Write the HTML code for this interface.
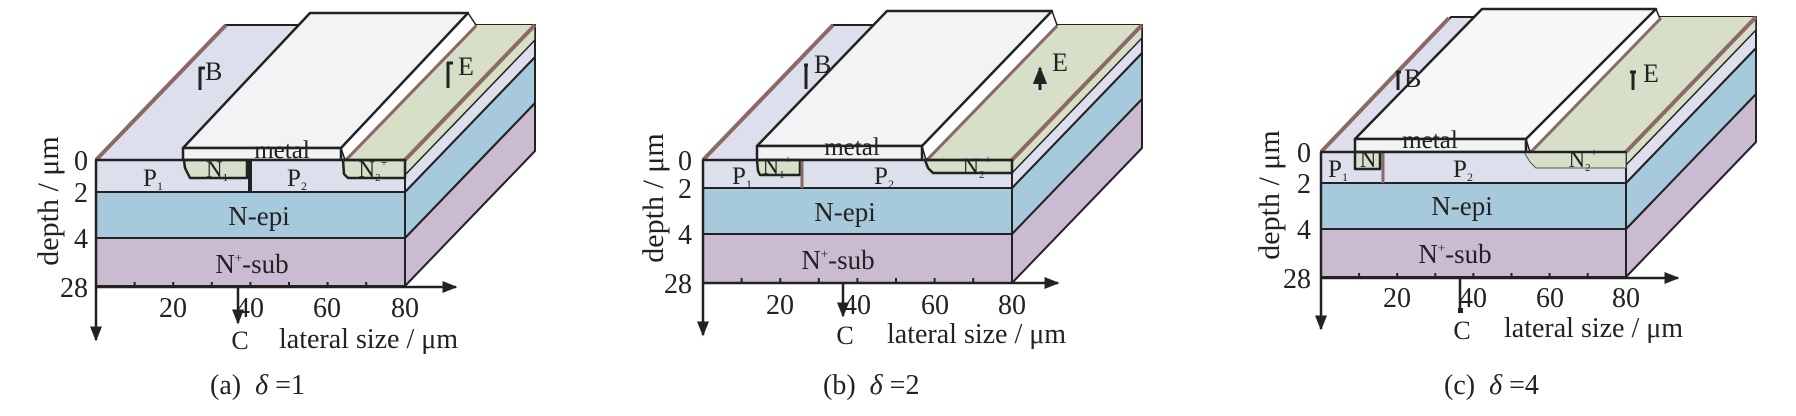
<!DOCTYPE html>
<html><head><meta charset="utf-8"><style>
html,body{margin:0;padding:0;background:#fff;}
svg{display:block;}
text{font-family:"Liberation Serif",serif;fill:#222;}
</style></head><body>
<svg width="1796" height="416" viewBox="0 0 1796 416" xmlns="http://www.w3.org/2000/svg">
<defs>
<marker id="ar" viewBox="0 0 10 10" refX="9" refY="5" markerWidth="6" markerHeight="6" orient="auto"><path d="M0,1 L10,5 L0,9 z" fill="#222"/></marker>
</defs>
<g stroke-linejoin="round">

<!-- ================= PANEL A ================= -->
<polygon points="405,238 535,103 535,151 405,286" fill="#cbbbd0" stroke="#222" stroke-width="2"/>
<polygon points="405,192 535,57 535,103 405,238" fill="#a7c9dc" stroke="#222" stroke-width="2"/>
<polygon points="405,160 535,25 535,57 405,192" fill="#dde0ec" stroke="#222" stroke-width="2"/>
<polygon points="405,160 535,25 535,40 405,175" fill="#d8dfc8" stroke="#222" stroke-width="1.5"/>
<polygon points="96,160 226,25 535,25 405,160" fill="#dde0ec" stroke="#222" stroke-width="2"/>
<polygon points="345,160 475,25 535,25 405,160" fill="#d8dfc8"/>
<polygon points="341,148 468,13 476,25 345,160" fill="#fff" stroke="#222" stroke-width="1.5"/>
<polygon points="183,148 310,13 468,13 341,148" fill="#f2f3f5" stroke="#222" stroke-width="2.5"/>
<rect x="183" y="148" width="158" height="12" fill="#f2f3f5" stroke="#222" stroke-width="2.5"/>
<line x1="96" y1="160" x2="226" y2="25" stroke="#8b6a66" stroke-width="4"/>
<line x1="347" y1="159" x2="476" y2="26" stroke="#8b6a66" stroke-width="3"/>
<line x1="405" y1="160" x2="535" y2="25" stroke="#8b6a66" stroke-width="4"/>
<rect x="96" y="160" width="309" height="32" fill="#dde0ec" stroke="#222" stroke-width="2"/>
<rect x="96" y="192" width="309" height="46" fill="#a7c9dc" stroke="#222" stroke-width="2"/>
<rect x="96" y="238" width="309" height="48" fill="#cbbbd0" stroke="#222" stroke-width="2"/>
<path d="M184,160 L185,168 L190,178 L247,178 L247,160 Z" fill="#d8dfc8" stroke="#222" stroke-width="2.5"/>
<line x1="250" y1="160" x2="250" y2="192" stroke="#222" stroke-width="4"/>
<path d="M343,160 L344,174 L348,178 L405,178 L405,160 Z" fill="#d8dfc8" stroke="#222" stroke-width="2.5"/>
<line x1="96" y1="160" x2="405" y2="160" stroke="#222" stroke-width="2.5"/>
<text x="153" y="186" font-size="25" text-anchor="middle">P<tspan font-size="12" dy="4">1</tspan></text>
<text x="297" y="186" font-size="25" text-anchor="middle">P<tspan font-size="12" dy="4">2</tspan></text>
<text x="217" y="177" font-size="23" text-anchor="middle" fill="#555">N<tspan font-size="11" dy="4">1</tspan></text>
<text x="373" y="177" font-size="23" text-anchor="middle" fill="#555">N<tspan font-size="11" dy="4">2</tspan><tspan font-size="12" dy="-15">+</tspan></text>
<text x="282" y="158" font-size="25" text-anchor="middle">metal</text>
<text x="259" y="225" font-size="27" text-anchor="middle">N-epi</text>
<text x="252" y="273" font-size="27" text-anchor="middle">N<tspan font-size="13" dy="-11">+</tspan><tspan dy="11">-sub</tspan></text>
<line x1="200" y1="67" x2="200" y2="90" stroke="#222" stroke-width="3"/><line x1="199" y1="68" x2="205" y2="68" stroke="#222" stroke-width="3"/>
<text x="205" y="80" font-size="26">B</text>
<line x1="448" y1="62" x2="448" y2="88" stroke="#222" stroke-width="3"/><line x1="447" y1="63" x2="453" y2="63" stroke="#222" stroke-width="3"/>
<text x="458" y="75" font-size="26">E</text>
<line x1="96" y1="287" x2="456" y2="287" stroke="#222" stroke-width="2.5" marker-end="url(#ar)"/>
<line x1="96" y1="160" x2="96" y2="340" stroke="#222" stroke-width="2.5" marker-end="url(#ar)"/>
<g stroke="#222" stroke-width="2"><line x1="134.6" y1="287" x2="134.6" y2="282"/><line x1="173.2" y1="287" x2="173.2" y2="282"/><line x1="211.8" y1="287" x2="211.8" y2="282"/><line x1="250.4" y1="287" x2="250.4" y2="282"/><line x1="289" y1="287" x2="289" y2="282"/><line x1="327.6" y1="287" x2="327.6" y2="282"/><line x1="366.2" y1="287" x2="366.2" y2="282"/></g>
<line x1="238" y1="287" x2="238" y2="323" stroke="#222" stroke-width="2.5" marker-end="url(#ar)"/>
<g font-size="28" text-anchor="middle"><text x="173" y="317">20</text><text x="250" y="317">40</text><text x="327" y="317">60</text><text x="405" y="317">80</text></g>
<g font-size="28" text-anchor="end"><text x="88" y="170">0</text><text x="88" y="202">2</text><text x="88" y="248">4</text><text x="88" y="297">28</text></g>
<text transform="translate(58,201) rotate(-90)" font-size="30" text-anchor="middle">depth / μm</text>
<text x="240" y="349" font-size="26" text-anchor="middle">C</text>
<text x="279" y="348" font-size="28">lateral size / μm</text>
<text x="210" y="394" font-size="28" xml:space="preserve">(a)  <tspan font-style="italic">δ</tspan> =1</text>

<!-- ================= PANEL B ================= -->
<polygon points="1012,234 1142,99 1142,148 1012,283" fill="#cbbbd0" stroke="#222" stroke-width="2"/>
<polygon points="1012,188 1142,53 1142,99 1012,234" fill="#a7c9dc" stroke="#222" stroke-width="2"/>
<polygon points="1012,160 1142,25 1142,53 1012,188" fill="#dde0ec" stroke="#222" stroke-width="2"/>
<polygon points="1012,160 1142,25 1142,38 1012,173" fill="#d8dfc8" stroke="#222" stroke-width="1.5"/>
<polygon points="703,160 833,25 1142,25 1012,160" fill="#dde0ec" stroke="#222" stroke-width="2"/>
<polygon points="926,160 1056,25 1142,25 1012,160" fill="#d8dfc8"/>
<polygon points="922,146 1052,11 1057,25 926,160" fill="#fff" stroke="#222" stroke-width="1.5"/>
<polygon points="757,146 887,11 1052,11 922,146" fill="#f2f3f5" stroke="#222" stroke-width="2.5"/>
<rect x="757" y="146" width="165" height="14" fill="#f2f3f5" stroke="#222" stroke-width="2.5"/>
<line x1="703" y1="160" x2="833" y2="25" stroke="#8b6a66" stroke-width="4"/>
<line x1="928" y1="159" x2="1057" y2="26" stroke="#8b6a66" stroke-width="3"/>
<line x1="1012" y1="160" x2="1142" y2="25" stroke="#8b6a66" stroke-width="4"/>
<rect x="703" y="160" width="309" height="28" fill="#dde0ec" stroke="#222" stroke-width="2"/>
<rect x="703" y="188" width="309" height="46" fill="#a7c9dc" stroke="#222" stroke-width="2"/>
<rect x="703" y="234" width="309" height="49" fill="#cbbbd0" stroke="#222" stroke-width="2"/>
<path d="M757,160 L758,171 L760,175 L800,175 L800,160 Z" fill="#d8dfc8" stroke="#222" stroke-width="2.5"/>
<line x1="802" y1="160" x2="802" y2="188" stroke="#8b6a66" stroke-width="3"/>
<path d="M925,160 L928,168 L933,173 L1012,173 L1012,160 Z" fill="#d8dfc8" stroke="#222" stroke-width="2.5"/>
<line x1="703" y1="160" x2="1012" y2="160" stroke="#222" stroke-width="2.5"/>
<text x="742" y="184" font-size="25" text-anchor="middle">P<tspan font-size="12" dy="4">1</tspan></text>
<text x="884" y="184" font-size="25" text-anchor="middle">P<tspan font-size="12" dy="4">2</tspan></text>
<text x="777" y="174" font-size="23" text-anchor="middle" fill="#555">N<tspan font-size="11" dy="4">1</tspan><tspan font-size="12" dy="-15">+</tspan></text>
<text x="977" y="174" font-size="23" text-anchor="middle" fill="#555">N<tspan font-size="11" dy="4">2</tspan><tspan font-size="12" dy="-15">+</tspan></text>
<text x="852" y="155" font-size="25" text-anchor="middle">metal</text>
<text x="845" y="221" font-size="27" text-anchor="middle">N-epi</text>
<text x="838" y="269" font-size="27" text-anchor="middle">N<tspan font-size="13" dy="-11">+</tspan><tspan dy="11">-sub</tspan></text>
<line x1="806" y1="64" x2="806" y2="89" stroke="#222" stroke-width="3"/><line x1="804" y1="65" x2="808" y2="65" stroke="#222" stroke-width="3"/>
<text x="814" y="73" font-size="26">B</text>
<line x1="1040" y1="90" x2="1040" y2="68" stroke="#222" stroke-width="3" marker-end="url(#ar)"/>
<text x="1052" y="71" font-size="26">E</text>
<line x1="703" y1="283" x2="1058" y2="283" stroke="#222" stroke-width="2.5" marker-end="url(#ar)"/>
<line x1="703" y1="160" x2="703" y2="335" stroke="#222" stroke-width="2.5" marker-end="url(#ar)"/>
<g stroke="#222" stroke-width="2"><line x1="741.6" y1="283" x2="741.6" y2="278"/><line x1="780.2" y1="283" x2="780.2" y2="278"/><line x1="818.8" y1="283" x2="818.8" y2="278"/><line x1="857.4" y1="283" x2="857.4" y2="278"/><line x1="896" y1="283" x2="896" y2="278"/><line x1="934.6" y1="283" x2="934.6" y2="278"/><line x1="973.2" y1="283" x2="973.2" y2="278"/></g>
<line x1="843" y1="283" x2="843" y2="316" stroke="#222" stroke-width="2.5" marker-end="url(#ar)"/>
<g font-size="28" text-anchor="middle"><text x="780" y="314">20</text><text x="857" y="314">40</text><text x="935" y="314">60</text><text x="1012" y="314">80</text></g>
<g font-size="28" text-anchor="end"><text x="692" y="170">0</text><text x="692" y="198">2</text><text x="692" y="244">4</text><text x="692" y="293">28</text></g>
<text transform="translate(663,198) rotate(-90)" font-size="30" text-anchor="middle">depth / μm</text>
<text x="845" y="344" font-size="26" text-anchor="middle">C</text>
<text x="887" y="343" font-size="28">lateral size / μm</text>
<text x="823" y="394" font-size="28" xml:space="preserve">(b)  <tspan font-style="italic">δ</tspan> =2</text>

<!-- ================= PANEL C ================= -->
<polygon points="1626,229 1756,94 1756,142 1626,277" fill="#cbbbd0" stroke="#222" stroke-width="2"/>
<polygon points="1626,183 1756,48 1756,94 1626,229" fill="#a7c9dc" stroke="#222" stroke-width="2"/>
<polygon points="1626,152 1756,17 1756,48 1626,183" fill="#dde0ec" stroke="#222" stroke-width="2"/>
<polygon points="1626,152 1756,17 1756,30 1626,165" fill="#d8dfc8" stroke="#222" stroke-width="1.5"/>
<polygon points="1321,152 1451,17 1756,17 1626,152" fill="#dde0ec" stroke="#222" stroke-width="2"/>
<polygon points="1530,152 1660,17 1756,17 1626,152" fill="#d8dfc8"/>
<polygon points="1526,139 1656,9 1660,19 1530,152" fill="#fff" stroke="#222" stroke-width="1.5"/>
<polygon points="1355,139 1482,9 1656,9 1526,139" fill="#f7f7f8" stroke="#222" stroke-width="2.5"/>
<rect x="1355" y="139" width="171" height="13" fill="#f2f3f5" stroke="#222" stroke-width="2.5"/>
<line x1="1321" y1="152" x2="1449" y2="18" stroke="#8b6a66" stroke-width="4"/>
<line x1="1532" y1="151" x2="1661" y2="18" stroke="#8b6a66" stroke-width="3"/>
<line x1="1626" y1="152" x2="1756" y2="17" stroke="#8b6a66" stroke-width="4"/>
<rect x="1321" y="152" width="305" height="31" fill="#dde0ec" stroke="#222" stroke-width="2"/>
<rect x="1321" y="183" width="305" height="46" fill="#a7c9dc" stroke="#222" stroke-width="2"/>
<rect x="1321" y="229" width="305" height="48" fill="#cbbbd0" stroke="#222" stroke-width="2"/>
<rect x="1355" y="152" width="25" height="17" fill="#d8dfc8" stroke="#222" stroke-width="2.5"/>
<line x1="1383" y1="152" x2="1383" y2="183" stroke="#8b6a66" stroke-width="3"/>
<path d="M1524,152 L1530,162 L1536,168 L1626,168 L1626,152 Z" fill="#d8dfc8" stroke="#555" stroke-width="1"/>
<line x1="1321" y1="152" x2="1626" y2="152" stroke="#222" stroke-width="2.5"/>
<text x="1338" y="177" font-size="25" text-anchor="middle">P<tspan font-size="12" dy="4">1</tspan></text>
<text x="1463" y="177" font-size="25" text-anchor="middle">P<tspan font-size="12" dy="4">2</tspan></text>
<text x="1368" y="167" font-size="23" text-anchor="middle">N</text>
<text x="1583" y="167" font-size="23" text-anchor="middle">N<tspan font-size="11" dy="4">2</tspan><tspan font-size="12" dy="-15">+</tspan></text>
<text x="1430" y="148" font-size="25" text-anchor="middle">metal</text>
<text x="1462" y="215" font-size="27" text-anchor="middle">N-epi</text>
<text x="1455" y="263" font-size="27" text-anchor="middle">N<tspan font-size="13" dy="-11">+</tspan><tspan dy="11">-sub</tspan></text>
<line x1="1398" y1="72" x2="1398" y2="90" stroke="#222" stroke-width="3"/><line x1="1396" y1="72" x2="1401" y2="72" stroke="#222" stroke-width="3"/>
<text x="1404" y="87" font-size="26">B</text>
<line x1="1633" y1="72" x2="1633" y2="90" stroke="#222" stroke-width="3"/><line x1="1630" y1="72" x2="1636" y2="72" stroke="#222" stroke-width="3"/>
<text x="1643" y="82" font-size="26">E</text>
<line x1="1321" y1="278" x2="1678" y2="278" stroke="#222" stroke-width="2.5" marker-end="url(#ar)"/>
<line x1="1321" y1="152" x2="1321" y2="329" stroke="#222" stroke-width="2.5" marker-end="url(#ar)"/>
<g stroke="#222" stroke-width="2"><line x1="1359.1" y1="278" x2="1359.1" y2="273"/><line x1="1397.2" y1="278" x2="1397.2" y2="273"/><line x1="1435.3" y1="278" x2="1435.3" y2="273"/><line x1="1473.4" y1="278" x2="1473.4" y2="273"/><line x1="1511.5" y1="278" x2="1511.5" y2="273"/><line x1="1549.6" y1="278" x2="1549.6" y2="273"/><line x1="1587.7" y1="278" x2="1587.7" y2="273"/></g>
<line x1="1460" y1="278" x2="1460" y2="311" stroke="#222" stroke-width="2.5"/><rect x="1458" y="308" width="5" height="5" fill="#222"/>
<g font-size="28" text-anchor="middle"><text x="1397" y="307">20</text><text x="1473" y="307">40</text><text x="1550" y="307">60</text><text x="1626" y="307">80</text></g>
<g font-size="28" text-anchor="end"><text x="1311" y="162">0</text><text x="1311" y="193">2</text><text x="1311" y="239">4</text><text x="1311" y="288">28</text></g>
<text transform="translate(1279,195) rotate(-90)" font-size="30" text-anchor="middle">depth / μm</text>
<text x="1462" y="339" font-size="26" text-anchor="middle">C</text>
<text x="1504" y="337" font-size="28">lateral size / μm</text>
<text x="1444" y="394" font-size="28" xml:space="preserve">(c)  <tspan font-style="italic">δ</tspan> =4</text>
</g>
</svg>
</body></html>
